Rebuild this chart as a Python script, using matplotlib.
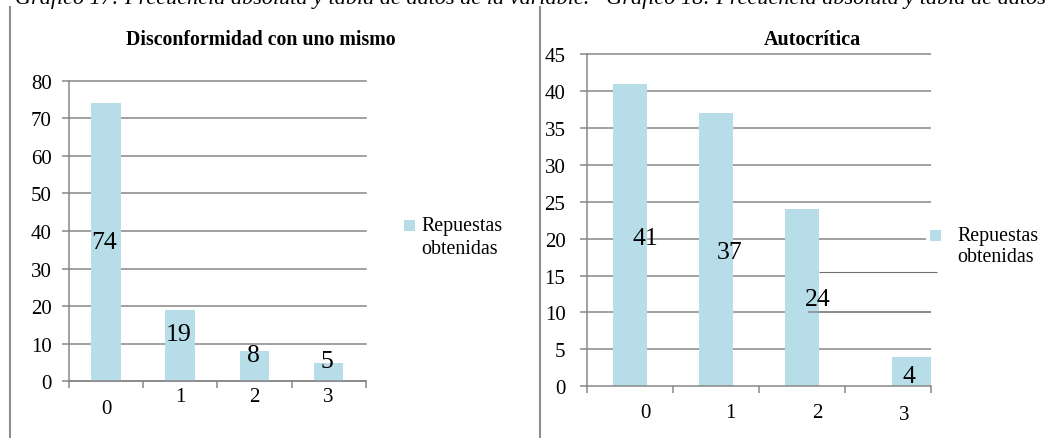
import matplotlib
matplotlib.use("Agg")
import matplotlib.pyplot as plt
import matplotlib.transforms as mtransforms
from matplotlib.patches import Rectangle
from matplotlib.lines import Line2D

# ---------------------------------------------------------------- data
categories = ["0", "1", "2", "3"]
series_name = "Repuestas\nobtenidas"
disconformidad = [74, 19, 8, 5]
autocritica = [41, 37, 24, 4]
title_left = "Disconformidad con uno mismo"
title_right = "Autocrítica"
left_yticks = [0, 10, 20, 30, 40, 50, 60, 70, 80]
right_yticks = [0, 5, 10, 15, 20, 25, 30, 35, 40, 45]
caption = ("Gráfico 17: Frecuencia absoluta y tabla de datos de la variable.   "
           "Gráfico 18: Frecuencia absoluta y tabla de datos")

# ---------------------------------------------------------------- style
W, H = 1059, 439
BAR = "#B7DDE8"
GRID = "#878787"
FRAME = "#8E8E8E"
TICK_FS = 15
LABEL_FS = 18.5
LEGEND_FS = 14.4

plt.rcParams["font.family"] = ["Liberation Serif", "DejaVu Serif"]

fig = plt.figure(figsize=(W / 100, H / 100), dpi=100)


def fx(x):
    return x / W


def fy(y):
    return 1 - y / H


def px_box(x0, y0, x1, y1):
    return [fx(x0), fy(y1), (x1 - x0) / W, (y1 - y0) / H]


def base_axes(box, ymax, yticks, ypad):
    ax = fig.add_axes(box)
    ax.set_xlim(-0.5, len(categories) - 0.5)
    ax.set_ylim(0, ymax)
    ax.set_yticks(yticks)
    ax.set_xticks([i - 0.5 for i in range(len(categories) + 1)])
    ax.set_xticklabels([])
    ax.tick_params(axis="both", direction="out", length=5.3, width=1.1,
                   color=GRID)
    ax.tick_params(axis="y", labelsize=TICK_FS, pad=ypad)
    for s in ("top", "right"):
        ax.spines[s].set_visible(False)
    for s in ("left", "bottom"):
        ax.spines[s].set_color(GRID)
        ax.spines[s].set_linewidth(1.1)
    ax.patch.set_alpha(0)
    return ax


def legend(x, y, text_dx, spacing):
    fig.add_artist(Rectangle((fx(x), fy(y + 11)), 11 / W, 11 / H,
                             transform=fig.transFigure, color=BAR, lw=0))
    for i, line in enumerate(series_name.split("\n")):
        fig.text(fx(x + text_dx), fy(y + 6 + i * spacing), line,
                 fontsize=LEGEND_FS, ha="left", va="center")


# ---------------------------------------------------------------- left chart
axl = base_axes(px_box(69, 81.7, 365.7, 382.3), 80, left_yticks, 7)
axl.yaxis.grid(True, color=GRID, lw=1.1)
for gl in axl.get_ygridlines():
    gl.set_clip_on(False)
axl.set_axisbelow(True)
xl = list(range(len(categories)))
axl.bar(xl, disconformidad, width=0.4, color=BAR, zorder=2)

left_label_frac = [0.5, 0.66, 0.875, 1.1]
for i, v in enumerate(disconformidad):
    axl.text(i - 0.02, v * left_label_frac[i], str(v), fontsize=LABEL_FS,
             ha="center", va="center", zorder=4)

trl = mtransforms.blended_transform_factory(axl.transData, fig.transFigure)
left_cat_y = [410, 398, 398, 398]
for i, c in enumerate(categories):
    axl.text(i, fy(left_cat_y[i]), c, transform=trl, fontsize=TICK_FS,
             ha="center", va="center")

# ---------------------------------------------------------------- right chart
axr = base_axes(px_box(586.7, 55, 931, 387.3), 45, right_yticks, 10)
bar_shift = [0, 0, 0, 0.28]
bar_width = [0.4, 0.4, 0.4, 0.457]
xr = [i + bar_shift[i] for i in range(len(categories))]
axr.bar(xr, autocritica, width=bar_width, color=BAR, zorder=2)

# horizontal grid, drawn segment by segment
for t in right_yticks[1:]:
    x_end = 3.5
    if t == 20:
        x_end = 3.44
    if t == 15:
        x_end = 2.0
    axr.plot([-0.5, x_end], [t, t], color=GRID, lw=1.1, zorder=1,
             clip_on=False, solid_capstyle="butt")
axr.plot([2.2, 3.57], [15.45, 15.45], color="#6f6f6f", lw=0.8, zorder=1,
         clip_on=False, solid_capstyle="butt")
axr.plot([2.075, 3.5], [10, 10], color=GRID, lw=1.1, zorder=3,
         solid_capstyle="butt")

right_label_dx = [0.18, 0.16, 0.18, 0.245]
right_label_frac = [0.49, 0.49, 0.49, 0.36]
for i, v in enumerate(autocritica):
    axr.text(i + right_label_dx[i], v * right_label_frac[i], str(v),
             fontsize=LABEL_FS, ha="center", va="center", zorder=4)

trr = mtransforms.blended_transform_factory(axr.transData, fig.transFigure)
right_cat_dx = [0.178, 0.166, 0.18, 0.186]
right_cat_y = [413.3, 413.3, 413.3, 415]
for i, c in enumerate(categories):
    axr.text(i + right_cat_dx[i], fy(right_cat_y[i]), c, transform=trr,
             fontsize=TICK_FS, ha="center", va="center")

# ---------------------------------------------------------------- titles, legends, frame
fig.text(fx(261), fy(40), title_left, fontsize=14.3, weight="bold",
         ha="center", va="center")
fig.text(fx(812), fy(40), title_right, fontsize=14.5, weight="bold",
         ha="center", va="center")

legend(404, 221, 17, 22.7)
legend(930, 230.5, 27, 21)

fig.text(fx(15), fy(4), caption, fontsize=16, style="italic",
         ha="left", va="baseline")

for x in (10, 539.5):
    fig.add_artist(Line2D([fx(x), fx(x)], [fy(8), fy(H + 2)], color=FRAME,
                          lw=1.5, transform=fig.transFigure))

fig.savefig("out.png", dpi=100)
